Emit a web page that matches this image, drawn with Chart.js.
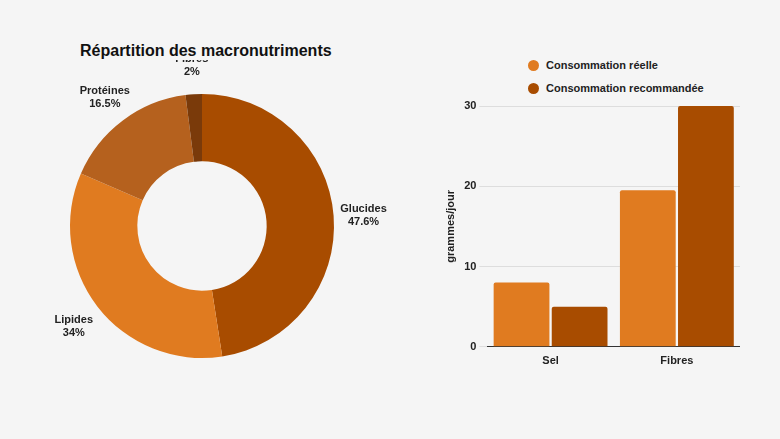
<!DOCTYPE html>
<html><head><meta charset="utf-8">
<script src="https://cdn.jsdelivr.net/npm/chart.js@4/dist/chart.umd.min.js"></script>
<style>
body{margin:0;width:780px;height:439px;background:#f5f5f5;font-family:"Liberation Sans",Arial,sans-serif;position:relative;overflow:hidden}
#title{position:absolute;left:80px;top:42px;font-size:16px;font-weight:bold;color:#111}
.leg{position:absolute;left:528px;font-size:11px;font-weight:bold;color:#222}
.leg span{display:inline-block;width:11px;height:11px;border-radius:50%;vertical-align:-2px;margin-right:7px}
</style></head><body>
<div id="title">Répartition des macronutriments</div>
<div class="leg" style="top:59px"><span style="background:#e07b20"></span>Consommation réelle</div>
<div class="leg" style="top:82px"><span style="background:#a84c00"></span>Consommation recommandée</div>
<canvas id="pie" width="404" height="332" style="position:absolute;left:0;top:60px"></canvas>
<canvas id="bar" width="300" height="272" style="position:absolute;left:440px;top:96px"></canvas>
<script>
// doughnut data
const macroLabels = ['Glucides', 'Lipides', 'Protéines', 'Fibres'];
const macroValues = [47.6, 34, 16.5, 2];
const macroColors = ['#a84c00', '#e07b20', '#b5611e', '#7a3a0a'];

// bar data
const barCategories = ['Sel', 'Fibres'];
const reelle = [8, 19.5];
const recommandee = [5, 30];

Chart.defaults.font.family = '"Liberation Sans", Arial, sans-serif';
Chart.defaults.color = '#222';

// draw labels outside each slice
const outsideLabels = {
  id: 'outsideLabels',
  afterDraw(chart) {
    const ctx = chart.ctx;
    chart.getDatasetMeta(0).data.forEach(function(arc, i) {
      const mid = (arc.startAngle + arc.endAngle) / 2;
      const r = arc.outerRadius + 30;
      const x = arc.x + Math.cos(mid) * r;
      const y = arc.y + Math.sin(mid) * r;
      ctx.save();
      ctx.font = 'bold 11px "Liberation Sans", Arial';
      ctx.fillStyle = '#222';
      ctx.textAlign = 'center';
      ctx.fillText(macroLabels[i], x, y - 2);
      ctx.fillText(macroValues[i] + '%', x, y + 11);
      ctx.restore();
    });
  }
};

new Chart(document.getElementById('pie'), {
  type: 'doughnut',
  data: {labels: macroLabels, datasets: [{data: macroValues, backgroundColor: macroColors, borderWidth: 0}]},
  options: {
    responsive: false, animation: false, cutout: '49%',
    layout: {padding: {left: 70, right: 70, top: 34, bottom: 34}},
    plugins: {legend: {display: false}, tooltip: {enabled: false}}
  },
  plugins: [outsideLabels]
});

new Chart(document.getElementById('bar'), {
  type: 'bar',
  data: {
    labels: barCategories,
    datasets: [
      {label: 'Consommation réelle', data: reelle, backgroundColor: '#e07b20', borderRadius: 2},
      {label: 'Consommation recommandée', data: recommandee, backgroundColor: '#a84c00', borderRadius: 2}
    ]
  },
  options: {
    responsive: false, animation: false,
    layout: {padding: {top: 10}},
    categoryPercentage: 0.92, barPercentage: 0.96,
    plugins: {legend: {display: false}, tooltip: {enabled: false}},
    scales: {
      x: {grid: {display: false}, border: {color: '#333'}, ticks: {padding: 0, font: {size: 11, weight: 'bold'}}},
      y: {min: 0, max: 30, ticks: {stepSize: 10, font: {size: 11, weight: 'bold'}},
          border: {display: false}, grid: {color: '#ddd'},
          title: {display: true, text: 'grammes/jour', font: {size: 11, weight: 'bold'}}}
    }
  }
});
</script>
</body></html>
